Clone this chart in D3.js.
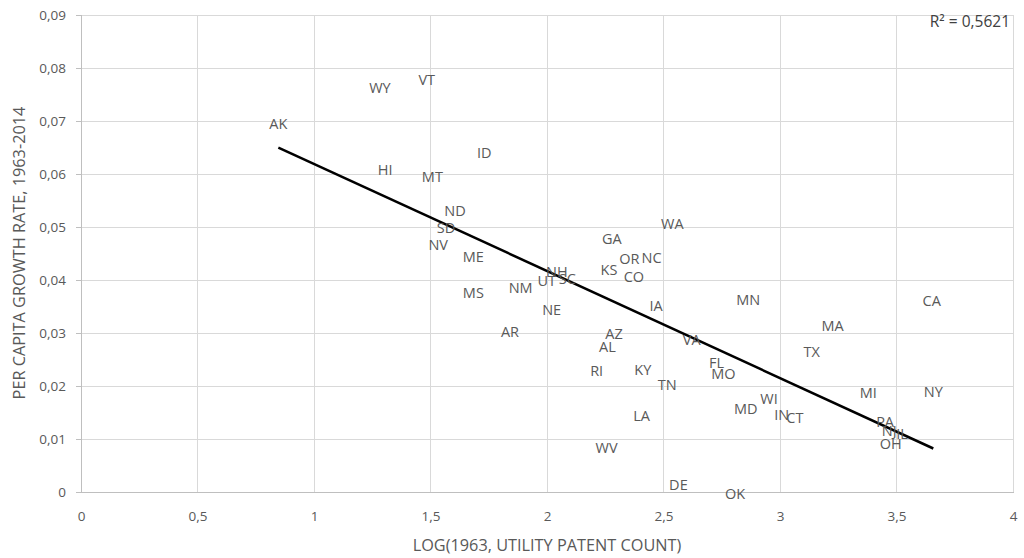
<!DOCTYPE html>
<html><head><meta charset="utf-8">
<script src="https://cdn.jsdelivr.net/npm/d3@7"></script>
<style>body{margin:0;background:#fff}svg{display:block}</style>
</head><body><svg id="c" width="1024" height="558"></svg>
<script>
const states = ["AK","WY","VT","ID","HI","MT","ND","SD","NV","ME","MS","NM","UT","NH","SC","NE","AR","GA","KS","OR","NC","CO","WA","IA","AZ","AL","RI","KY","VA","TN","FL","MO","LA","WV","DE","OK","MD","WI","IN","CT","TX","MN","CA","MA","MI","NY","PA","NJ","IL","OH"];
const logPatents = [0.847,1.283,1.484,1.731,1.305,1.508,1.605,1.567,1.533,1.684,1.684,1.887,1.999,2.042,2.087,2.020,1.841,2.278,2.266,2.353,2.449,2.373,2.538,2.468,2.288,2.259,2.213,2.411,2.621,2.516,2.728,2.757,2.406,2.256,2.564,2.807,2.853,2.953,3.007,3.064,3.136,2.864,3.651,3.226,3.379,3.658,3.451,3.469,3.524,3.475];
const growth = [0.0696,0.0764,0.0779,0.0640,0.0609,0.0595,0.0531,0.0499,0.0467,0.0444,0.0376,0.0386,0.0400,0.0416,0.0403,0.0345,0.0302,0.0479,0.0420,0.0441,0.0443,0.0406,0.0506,0.0351,0.0299,0.0274,0.0230,0.0232,0.0287,0.0202,0.0245,0.0224,0.0145,0.0084,0.0015,-0.0002,0.0158,0.0177,0.0147,0.0140,0.0265,0.0364,0.0361,0.0315,0.0187,0.0189,0.0133,0.0116,0.0110,0.0092];
const xTicks = [0,0.5,1,1.5,2,2.5,3,3.5,4];
const yTicks = [0,0.01,0.02,0.03,0.04,0.05,0.06,0.07,0.08,0.09];
const trendSlope = -0.0202, trendIntercept = 0.0821;
const r2Label = "R² = 0,5621";
const xTitle = "LOG(1963, UTILITY PATENT COUNT)";
const yTitle = "PER CAPITA GROWTH RATE, 1963-2014";

const svg = d3.select("#c");
const font = "'Open Sans', 'Noto Sans', sans-serif";
const x = d3.scaleLinear().domain([0,4]).range([81,1013]);
const y = d3.scaleLinear().domain([0,0.09]).range([492,15]);
const fmt = v => String(+v.toFixed(2)).replace(".", ",");

// gridlines
svg.append("g").selectAll("line").data(xTicks.slice(1)).join("line")
  .attr("x1", d=>x(d)).attr("x2", d=>x(d)).attr("y1", y(0.09)).attr("y2", y(0))
  .attr("stroke","#d9d9d9").attr("stroke-width",1).attr("shape-rendering","crispEdges");
svg.append("g").selectAll("line").data(yTicks.slice(1)).join("line")
  .attr("x1", x(0)).attr("x2", x(4)).attr("y1", d=>y(d)).attr("y2", d=>y(d))
  .attr("stroke","#d9d9d9").attr("stroke-width",1).attr("shape-rendering","crispEdges");

// axes
const gx = svg.append("g").attr("transform", `translate(0,${y(0)})`)
  .call(d3.axisBottom(x).tickValues(xTicks).tickFormat(fmt).tickSize(0).tickPadding(19));
const gy = svg.append("g").attr("transform", `translate(${x(0)},0)`)
  .call(d3.axisLeft(y).tickValues(yTicks).tickFormat(fmt).tickSize(5).tickPadding(10));
[gx, gy].forEach(g => {
  g.select(".domain").attr("stroke","#bfbfbf").attr("shape-rendering","crispEdges");
  g.selectAll(".tick line").attr("stroke","#bfbfbf").attr("shape-rendering","crispEdges");
  g.selectAll("text").attr("fill","#595959").attr("font-family",font).attr("font-size",13.5);
});

// trendline
const xMin = d3.min(logPatents), xMax = d3.max(logPatents);
svg.append("line")
  .attr("x1", x(xMin)).attr("y1", y(trendIntercept + trendSlope*xMin))
  .attr("x2", x(xMax)).attr("y2", y(trendIntercept + trendSlope*xMax))
  .attr("stroke","#000").attr("stroke-width",2.5);

// labels
svg.append("g").selectAll("text").data(states).join("text")
  .attr("x", (d,i)=>x(logPatents[i])).attr("y", (d,i)=>y(growth[i]))
  .attr("text-anchor","middle").attr("dominant-baseline","central")
  .attr("fill","#595959").attr("font-family",font).attr("font-size",14.5)
  .text(d=>d);

// R2
svg.append("text").attr("x",1010).attr("y",21).attr("text-anchor","end")
  .attr("dominant-baseline","central").attr("fill","#404040")
  .attr("font-family",font).attr("font-size",15.5).text(r2Label);

// titles
svg.append("text").attr("x",547).attr("y",545).attr("text-anchor","middle")
  .attr("dominant-baseline","central").attr("fill","#595959")
  .attr("font-family",font).attr("font-size",16.3).text(xTitle);
svg.append("text").attr("transform","translate(19,253) rotate(-90)").attr("text-anchor","middle")
  .attr("dominant-baseline","central").attr("fill","#595959")
  .attr("font-family",font).attr("font-size",16.3).text(yTitle);
</script></body></html>
